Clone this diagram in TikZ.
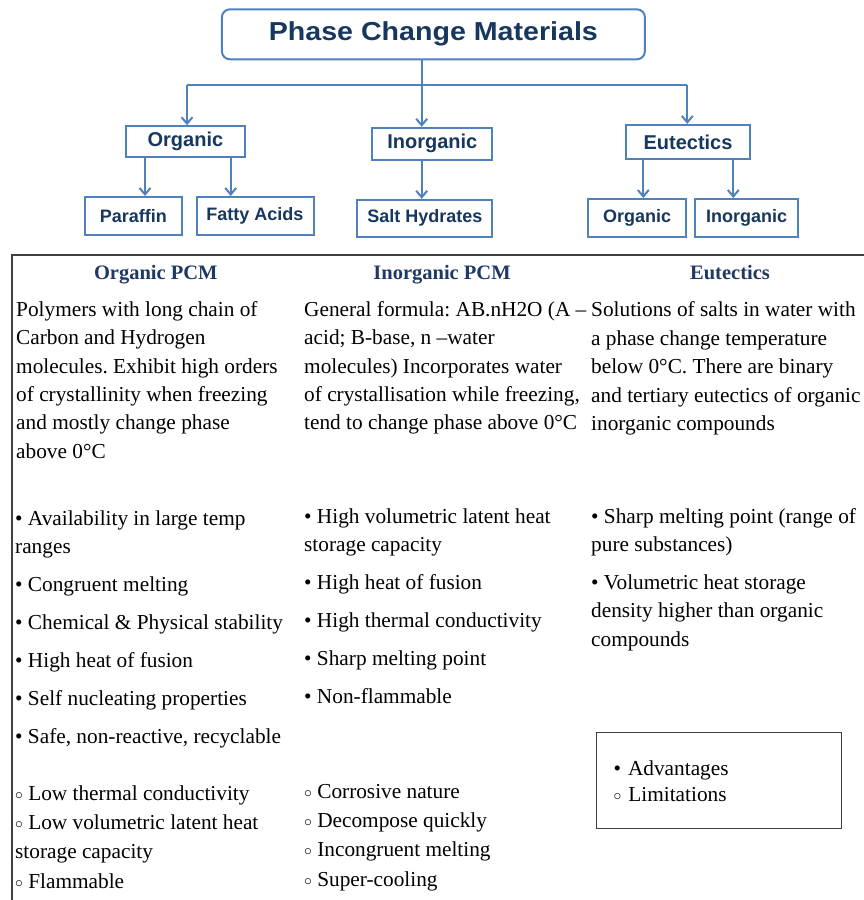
\documentclass[tikz,border=0pt]{standalone}
\usepackage{fontspec}
\setmainfont{Liberation Serif}
\newfontfamily\boxfont{Liberation Sans}
\newfontfamily\titlefont[FakeStretch=1.1]{Liberation Sans}
\usetikzlibrary{positioning,arrows.meta,calc}
\definecolor{pcmline}{RGB}{79,129,189}
\definecolor{pcmtext}{RGB}{23,55,94}
\definecolor{pcmhead}{RGB}{31,56,100}
\newcommand{\topstrut}{\rule{0pt}{16pt}}
\newcommand{\adv}{\textbullet\ }
\newcommand{\hollow}{\raisebox{1pt}{\scalebox{0.75}{$\circ$}}\ }
\frenchspacing

\begin{document}
\begin{tikzpicture}[
  x=1pt, y=-1pt,
  >={Straight Barb[length=6.5pt,width=11pt]},
  titlebox/.style={draw=pcmline, line width=2pt, rounded corners=8pt, fill=white,
    minimum width=423, minimum height=50, text=pcmtext, font=\titlefont\bfseries\fontsize{26}{30}\selectfont},
  catbox/.style={draw=pcmline, line width=2pt, fill=white, inner sep=0pt,
    text=pcmtext, font=\boxfont\bfseries\fontsize{20}{24}\selectfont},
  subbox/.style={draw=pcmline, line width=2pt, fill=white, inner sep=0pt,
    text=pcmtext, font=\boxfont\bfseries\fontsize{18}{22}\selectfont},
  conn/.style={pcmline, line width=2pt},
  arr/.style={->, pcmline, line width=2pt},
  colhead/.style={anchor=base, text=pcmhead, font=\bfseries\fontsize{20.5}{24}\selectfont},
  desc/.style={anchor=north west, inner sep=0pt, align=left, font=\fontsize{21.3}{28.4}\selectfont},
  pros/.style={desc},
  cons/.style={desc, font=\fontsize{21.3}{29.3}\selectfont},
  frame/.style={black!75, line width=1.6pt},
]
\useasboundingbox (0,0) rectangle (863,900);

% Top level
\node[titlebox] (title) at (433.4,34.3) {Phase Change Materials};

% Categories
\node[catbox, minimum width=119, minimum height=31] (org) at (185.4,141.7) {Organic};
\node[catbox, minimum width=120, minimum height=32] (inorg) at (432.3,143.8) {Inorganic};
\node[catbox, minimum width=124, minimum height=34] (eut) at (688,141.9) {Eutectics};

% Sub-categories
\node[subbox, minimum width=97, minimum height=38] (para) at (133.3,216) {Paraffin};
\node[subbox, minimum width=117, minimum height=38] (fatty) at (255,216) {Fatty Acids};
\node[subbox, minimum width=135, minimum height=37] (salt) at (424.8,218.3) {Salt Hydrates};
\node[subbox, minimum width=98, minimum height=38] (eorg) at (637.2,218) {Organic};
\node[subbox, minimum width=103, minimum height=38] (einorg) at (746.7,218) {Inorganic};

% Bus from the title
\coordinate (busL) at (187,85);
\coordinate (busC) at (421.7,85);
\coordinate (busR) at (687.3,85);
\draw[conn] ([xshift=-11.7pt]title.south) -- (busC);
\draw[conn] (busL) -- (busR);
\draw[arr] (busL) -- (busL |- org.north);
\draw[arr] (busC) -- (busC |- inorg.north);
\draw[arr] (busR) -- (busR |- eut.north);

% Category -> sub-category
\draw[arr] ([xshift=-40.4pt]org.south) -- ([xshift=-40.4pt]org.south |- para.north);
\draw[arr] ([xshift=45.3pt]org.south) -- ([xshift=45.3pt]org.south |- fatty.north);
\draw[arr] ([xshift=-10.6pt]inorg.south) -- ([xshift=-10.6pt]inorg.south |- salt.north);
\draw[arr] ([xshift=-44.7pt]eut.south) -- ([xshift=-44.7pt]eut.south |- eorg.north);
\draw[arr] ([xshift=45.3pt]eut.south) -- ([xshift=45.3pt]eut.south |- einorg.north);

% Table frame (runs off the page)
\draw[frame] (12,910) -- (12,255) -- (880,255);

% Column heads
\node[colhead] (orghead) at (155.8,279) {Organic PCM};
\node[colhead] (inorghead) at (442,279) {Inorganic PCM};
\node[colhead] (euthead) at (730,279) {Eutectics};

% Descriptions
\node[desc] (orgdesc) at (16,300) {\topstrut Polymers with long chain of\\Carbon and Hydrogen\\molecules. Exhibit high orders\\of crystallinity when freezing\\and mostly change phase\\above 0°C};
\node[desc] (inorgdesc) at (304,300) {\topstrut General formula: AB.nH2O (A –\\acid; B-base, n –water\\molecules) Incorporates water\\of crystallisation while freezing,\\tend to change phase above 0°C};
\node[desc] (eutdesc) at (591,300.7) {\topstrut Solutions of salts in water with\\a phase change temperature\\below 0°C. There are binary\\and tertiary eutectics of organic\\inorganic compounds};

% Advantages
\node[pros] (orgadv) at (15,509) {\topstrut\adv Availability in large temp\\ranges\\[9.5pt]\adv Congruent melting\\[9.5pt]\adv Chemical \& Physical stability\\[9.5pt]\adv High heat of fusion\\[9.5pt]\adv Self nucleating properties\\[9.5pt]\adv Safe, non-reactive, recyclable};
\node[pros] (inorgadv) at (304,507) {\topstrut\adv High volumetric latent heat\\storage capacity\\[9.5pt]\adv High heat of fusion\\[9.5pt]\adv High thermal conductivity\\[9.5pt]\adv Sharp melting point\\[9.5pt]\adv Non-flammable};
\node[pros] (eutadv) at (591,507) {\topstrut\adv Sharp melting point (range of\\pure substances)\\[9.5pt]\adv Volumetric heat storage\\density higher than organic\\compounds};

% Limitations
\node[cons] (orglim) at (15,784) {\topstrut\hollow Low thermal conductivity\\\hollow Low volumetric latent heat\\storage capacity\\\hollow Flammable};
\node[cons] (inorglim) at (304,782) {\topstrut\hollow Corrosive nature\\\hollow Decompose quickly\\\hollow Incongruent melting\\\hollow Super-cooling};

% Key
\node[draw=black!75, line width=1.6pt, anchor=north west, inner xsep=17pt, inner ysep=0pt,
      text width=211, minimum height=96, align=left, font=\fontsize{21.3}{26.3}\selectfont]
  (key) at (595.7,731.7) {\topstrut\adv Advantages\\\hollow Limitations};

\end{tikzpicture}
\end{document}
